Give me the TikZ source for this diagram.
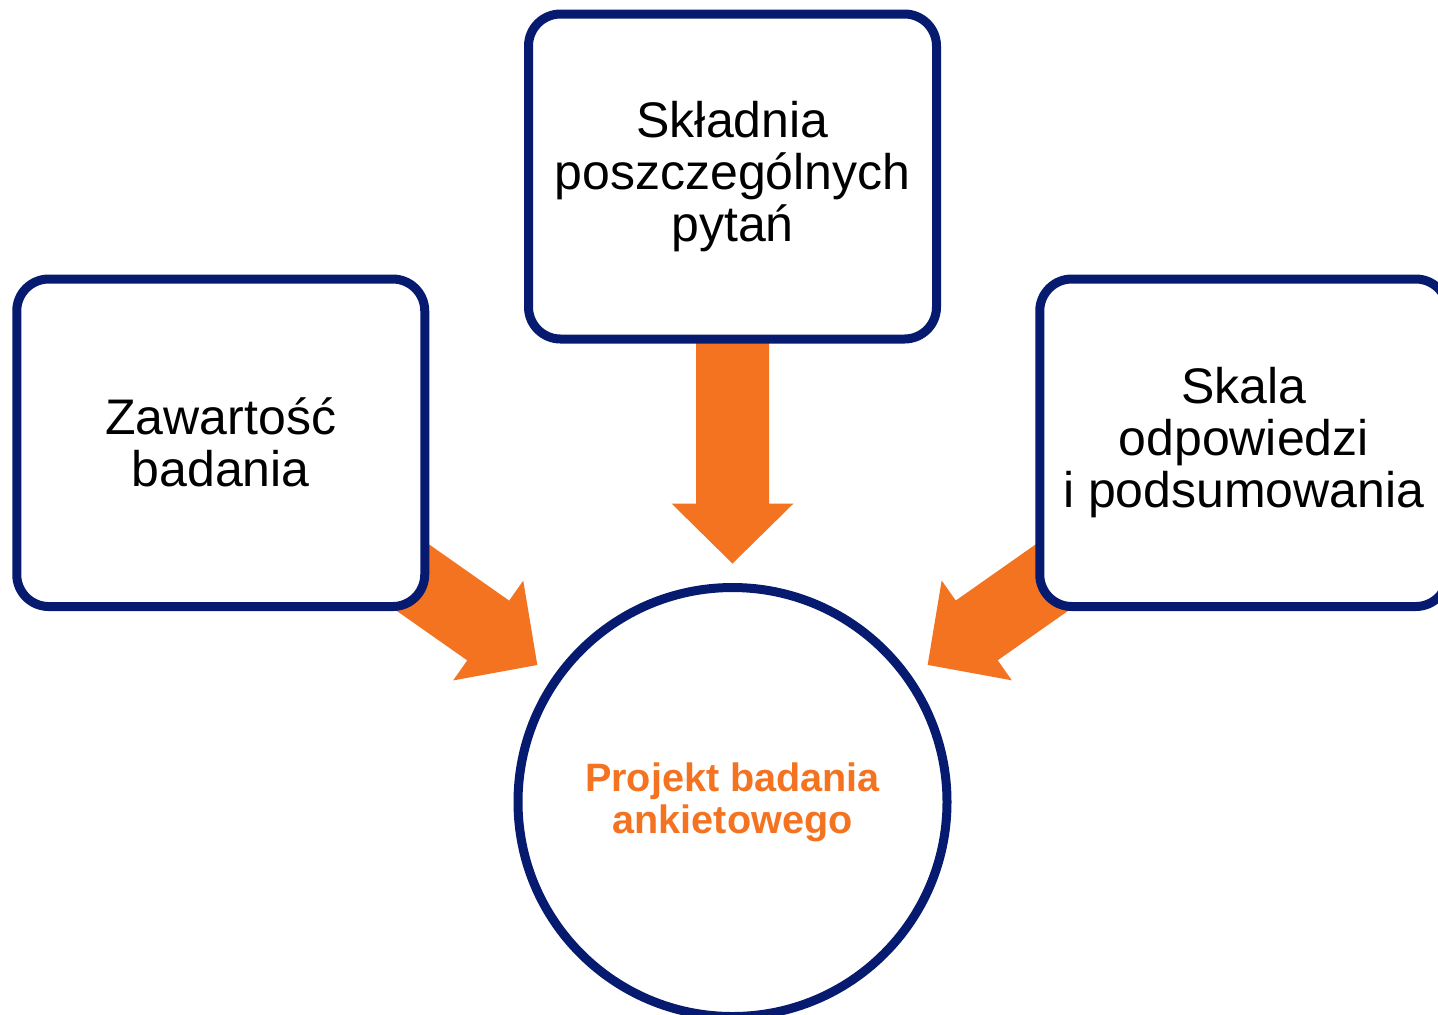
\documentclass[tikz,border=0pt]{standalone}
\usepackage{fontspec}
\setmainfont{Liberation Sans}
\usetikzlibrary{calc,backgrounds}
\definecolor{navy}{HTML}{061B70}
\definecolor{orng}{HTML}{F47321}
\newcommand\fatarrow[2]{%
  \coordinate (fab) at ($(#2)!30pt!(#1)$);
  \fill[arrowfill] ($(#1)!18.25pt!90:(#2)$) -- ($(fab)!18.25pt!90:(#2)$)
    -- ($(fab)!30.5pt!90:(#2)$) -- (#2) -- ($(fab)!30.5pt!-90:(#2)$)
    -- ($(fab)!18.25pt!-90:(#2)$) -- ($(#1)!18.25pt!-90:(#2)$) -- cycle;
}
\tikzset{
  box/.style={draw=navy, fill=white, line width=4.5pt, rounded corners=16pt,
    minimum width=204pt, minimum height=163.75pt, align=center,
    font=\fontsize{25}{26}\selectfont, text=black},
  hub/.style={draw=navy, fill=white, line width=4.5pt, circle, inner sep=0pt,
    minimum size=214.5pt, align=center,
    font=\fontsize{19.8}{21}\selectfont\bfseries, text=orng},
  arrowfill/.style={fill=orng},
}
\begin{document}
\begin{tikzpicture}[x=0.5pt, y=-0.5pt]
  \clip (0,0) rectangle (1438,1014);
  \node[box, minimum height=162.5pt] (top) at (732.5,176.5) {Składnia\\poszczególnych\\pytań};
  \node[box] (left) at (220.75,442.75) {Zawartość\\badania};
  \node[box] (right) at (1243.75,442.75) {Skala\\odpowiedzi\\i podsumowania};
  \node[hub] (hub) at (732.5,802) {Projekt badania\\ankietowego};
  \coordinate (ttop) at ($(hub.center)!119.25pt!(top.center)$);
  \coordinate (tleft) at ($(hub.center)!119.25pt!(left.center)$);
  \coordinate (tright) at ($(hub.center)!119.25pt!(right.center)$);
  \begin{scope}[on background layer]
    \fill[white] (0,0) rectangle (1438,1014);
    \fatarrow{top.center}{ttop}
    \fatarrow{left.center}{tleft}
    \fatarrow{right.center}{tright}
  \end{scope}
\end{tikzpicture}
\end{document}
